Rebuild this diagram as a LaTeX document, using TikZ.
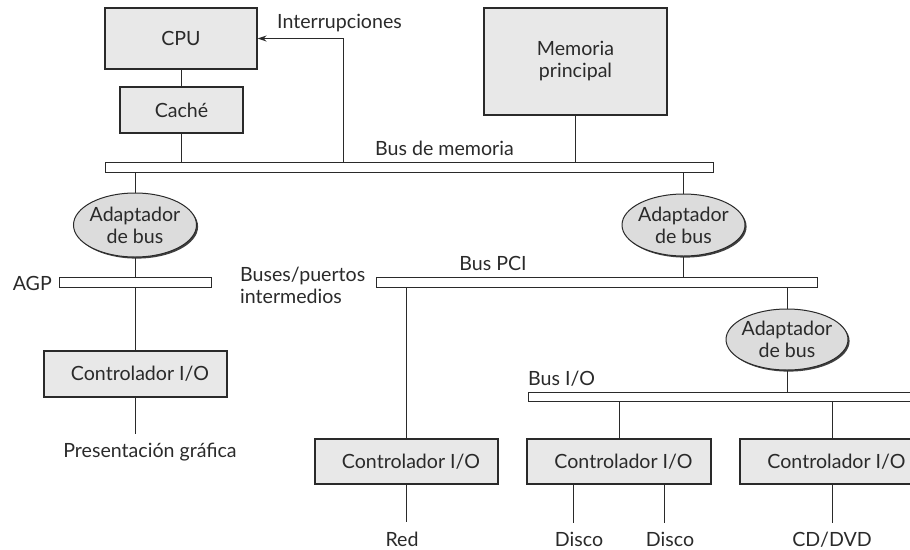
\documentclass[tikz,border=0pt]{standalone}
\usepackage{fontspec}
\setmainfont{Lato}
\usetikzlibrary{shapes.geometric,shadows,arrows.meta}
\definecolor{ink}{HTML}{2A2A2A}
\definecolor{boxfill}{HTML}{E8E8E8}
\definecolor{adfill}{HTML}{DCDCDC}
\begin{document}
\begin{tikzpicture}[x=1pt,y=-1pt,
 every node/.style={font=\fontsize{19.6}{22}\selectfont, text=ink},
 box/.style={rectangle, draw=ink, line width=1.1pt, fill=boxfill, inner sep=0pt, align=center},
 adapter/.style={ellipse, draw=ink, line width=1pt, fill=adfill, inner sep=0pt,
   drop shadow={shadow xshift=1.6pt, shadow yshift=-1.6pt, fill=black!75, opacity=1}},
 bar/.style={rectangle, draw=ink, line width=1pt, fill=white, inner sep=0pt},
 wire/.style={draw=ink, line width=1pt},
 lbl/.style={inner sep=0pt}
]
\useasboundingbox (0,0) rectangle (910,549);

% boxes
\node[box, minimum width=152pt, minimum height=61pt] (cpu) at (181,38.5) {CPU};
\node[box, minimum width=123pt, minimum height=46pt] (cache) at (181.5,110) {Caché};
\node[box, minimum width=183pt, minimum height=107pt] (mem) at (575.5,61.5) {Memoria\\principal};

% buses
\node[bar, minimum width=608pt, minimum height=9.5pt] (busmem) at (409,167.5) {};
\node[bar, minimum width=152pt, minimum height=10pt] (agp) at (135,282) {};
\node[bar, minimum width=441pt, minimum height=10pt] (pci) at (596.5,282) {};
\node[bar, minimum width=420pt, minimum height=9pt] (busio) at (738,396.5) {};

% adapters
\node[adapter, minimum width=123pt, minimum height=64pt] (adL) at (135,225) {};
\node[lbl, align=center] (adLt) at (adL) {Adaptador\\de bus};
\node[adapter, minimum width=123pt, minimum height=62pt] (adR) at (683.5,225) {};
\node[lbl, align=center] (adRt) at (adR) {Adaptador\\de bus};
\node[adapter, minimum width=122pt, minimum height=61pt] (adIO) at (787,339.5) {};
\node[lbl, align=center] (adIOt) at (adIO) {Adaptador\\de bus};

% controllers
\node[box, minimum width=183pt, minimum height=46pt] (ctrlG) at (135.5,374) {\hspace*{9pt}Controlador I/O};
\node[box, minimum width=183pt, minimum height=45pt] (ctrlRed) at (406.5,461.5) {\hspace*{9pt}Controlador I/O};
\node[box, minimum width=184pt, minimum height=45pt] (ctrlD) at (619,461.5) {\hspace*{9pt}Controlador I/O};
\node[box, minimum width=184pt, minimum height=45pt] (ctrlCD) at (832,461.5) {\hspace*{9pt}Controlador I/O};

% free ends
\coordinate (intc) at (343,0);
\coordinate (gEnd) at (135.5,434);
\coordinate (redEnd) at (406,522);
\coordinate (d1End) at (573,523);
\coordinate (d2End) at (664,523);
\coordinate (cdEnd) at (832,523);

% connectors
\draw[wire] (cpu.south) -- (cpu.south |- cache.north);
\draw[wire] (cache.south) -- (cache.south |- busmem.north);
\draw[wire, -{Stealth[length=9pt,width=6pt]}] (intc |- busmem.north) |- (cpu.east);
\draw[wire] (mem.south) -- (mem.south |- busmem.north);
\draw[wire] (busmem.south -| adL.north) -- (adL.north);
\draw[wire] (adL.south) -- (adL.south |- agp.north);
\draw[wire] (agp.south -| ctrlG.north) -- (ctrlG.north);
\draw[wire] (ctrlG.south) -- (gEnd);
\draw[wire] (busmem.south -| adR.north) -- (adR.north);
\draw[wire] (adR.south) -- (adR.south |- pci.north);
\draw[wire] (pci.south -| adIO.north) -- (adIO.north);
\draw[wire] (adIO.south) -- (adIO.south |- busio.north);
\draw[wire] (pci.south -| ctrlRed.north) -- (ctrlRed.north);
\draw[wire] (busio.south -| ctrlD.north) -- (ctrlD.north);
\draw[wire] (busio.south -| ctrlCD.north) -- (ctrlCD.north);
\draw[wire] (ctrlRed.south -| redEnd) -- (redEnd);
\draw[wire] (ctrlD.south -| d1End) -- (d1End);
\draw[wire] (ctrlD.south -| d2End) -- (d2End);
\draw[wire] (ctrlCD.south) -- (cdEnd);

% labels
\node[lbl, anchor=base west] (tint) at (277,28) {Interrupciones};
\node[lbl, anchor=base west] (tbm) at (375,155) {Bus de memoria};
\node[lbl, anchor=base east] (tagp) at (52,290) {AGP};
\node[lbl, align=left, anchor=west] (tbuses) at (240,285) {Buses/puertos\\intermedios};
\node[lbl, anchor=base] (tpci) at (493,270) {Bus PCI};
\node[lbl, anchor=base west] (tio) at (528,385) {Bus I/O};
\node[lbl, anchor=base] (tpres) at (150,457) {Presentación gráfica};
\node[lbl, anchor=base] (tred) at (402,546) {Red};
\node[lbl, anchor=base] (td1) at (579,546) {Disco};
\node[lbl, anchor=base] (td2) at (670,546) {Disco};
\node[lbl, anchor=base] (tcd) at (832,546) {CD/DVD};
\end{tikzpicture}
\end{document}
